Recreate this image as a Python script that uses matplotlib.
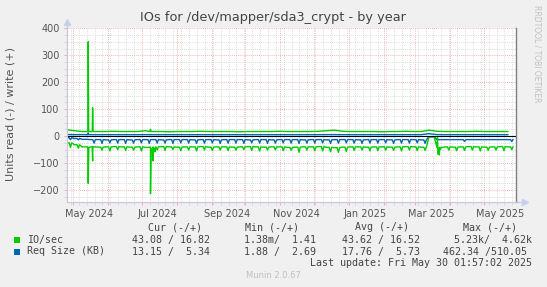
import matplotlib
matplotlib.use('Agg')
import matplotlib.pyplot as plt
import matplotlib.dates as mdates
from matplotlib.patches import Rectangle
import numpy as np
import pandas as pd

W, H = 547, 287

start = pd.Timestamp('2024-04-25 02:00')
end = pd.Timestamp('2025-05-28 21:00')

# weekly values (week i starts at start + 7*i days)
# read side is stored as magnitude and drawn negative (munin style)
green_read_base = [25, 32, 40, 40, 41, 40, 39, 40, 41, 40, 42, 40, 39, 40, 41, 40, 40, 39, 41, 40,
                   40, 41, 40, 39, 40, 41, 40, 40, 42, 41, 40, 40, 39, 42, 43, 41, 40, 40, 41, 40,
                   40, 41, 40, 39, 40, 41, 3, 42, 40, 41, 40, 39, 40, 41, 40, 39, 40]
green_read_dip = [42, 45, 40, 40, 52, 55, 50, 53, 52, 55, 42, 52, 53, 50, 54, 52, 55, 51, 53, 52,
                  54, 52, 50, 53, 55, 52, 51, 54, 53, 60, 52, 54, 55, 58, 60, 57, 53, 52, 55, 54,
                  52, 53, 55, 52, 54, 53, 3, 45, 52, 54, 53, 52, 55, 53, 52, 54, 50]
blue_read_base = [6, 9, 12, 13, 13, 14, 13, 13, 14, 13, 13, 13, 14, 13, 13, 13, 14, 13, 13, 14,
                  13, 13, 13, 14, 13, 13, 14, 13, 13, 13, 14, 13, 13, 14, 13, 13, 13, 14, 13, 13,
                  13, 14, 13, 13, 13, 14, 2, 13, 13, 13, 13, 13, 13, 13, 13, 13, 13]
blue_read_dip = [13, 14, 12, 26, 27, 25, 26, 27, 26, 25, 27, 26, 26, 27, 25, 26, 27, 26, 25, 27,
                 26, 26, 27, 25, 26, 27, 26, 25, 26, 27, 26, 26, 25, 27, 26, 25, 26, 27, 26, 26,
                 25, 27, 26, 26, 25, 27, 2, 13, 13, 13, 20, 13, 13, 13, 13, 13, 20]
green_write = [24, 20, 17, 17, 17, 17, 18, 17, 17, 17, 20, 17, 17, 16, 17, 17, 17, 18, 17, 17,
               17, 17, 16, 17, 17, 17, 17, 18, 17, 17, 17, 17, 18, 20, 22, 18, 17, 17, 17, 17,
               16, 17, 17, 18, 17, 17, 22, 18, 17, 17, 17, 17, 18, 17, 17, 17, 17]
blue_write = [6, 5.5, 5.5, 5.3, 5.3, 5.3, 5.3, 5.3, 5.3, 5.3, 5.5, 5.3, 5.3, 5.3, 5.3, 5.3, 5.3,
              5.3, 5.3, 5.3, 5.3, 5.3, 5.3, 5.3, 5.3, 5.3, 5.3, 5.3, 5.3, 5.3, 5.3, 5.3, 5.3,
              5.5, 5.5, 5.3, 5.3, 5.3, 5.3, 5.3, 5.3, 5.3, 5.3, 5.3, 5.3, 5.3, 9, 5.5, 5.3, 5.3,
              5.3, 5.3, 5.3, 5.3, 5.3, 5.3, 5.3]

# single-day events (days after start, value)
green_read_ev_days = [18.9, 19.3, 19.8, 22.8, 23.2, 23.7, 74.2, 74.6, 75.1, 76.4, 76.8, 77.3,
                      78.0, 78.5, 79.0, 329.5, 330.0, 330.6, 331.2, 331.8, 332.5]
green_read_ev_vals = [40, 175, 45, 40, 92, 40, 40, 213, 48, 45, 92, 50, 45, 58, 42, 5, 67, 45,
                      70, 50, 42]
green_write_ev_days = [19.0, 19.3, 19.7, 22.9, 23.2, 23.6, 74.2, 74.6, 75.0]
green_write_ev_vals = [17, 350, 17, 17, 105, 17, 17, 25, 17]
blue_write_ev_days = [19.0, 19.3, 19.7]
blue_write_ev_vals = [5.3, 12, 5.3]

tick_dates = ['2024-05-15', '2024-07-15', '2024-09-15', '2024-11-15', '2025-01-15',
              '2025-03-15', '2025-05-15']
tick_labels = ['May 2024', 'Jul 2024', 'Sep 2024', 'Nov 2024', 'Jan 2025', 'Mar 2025', 'May 2025']

legend_rows = [
    ('IO/sec', '#00CC00', '43.08 / 16.82', '1.38m/  1.41', '43.62 / 16.52', '5.23k/  4.62k'),
    ('Req Size (KB)', '#0066B3', '13.15 /  5.34', '1.88 /  2.69', '17.76 /  5.73', '462.34 /510.05'),
]


def weekly_line(base, dip, ev_days=(), ev_vals=()):
	t, v = [], []
	for i in range(len(base)):
		if dip is None:
			t += [7 * i]
			v += [base[i]]
		else:
			t += [7 * i, 7 * i + 2.4, 7 * i + 3.5, 7 * i + 4.6]
			v += [base[i], base[i], dip[i], base[i]]
	t = np.array(t + list(ev_days), dtype=float)
	v = np.array(v + list(ev_vals), dtype=float)
	o = np.argsort(t, kind='stable')
	dates = start + pd.to_timedelta(t[o], unit='D')
	return dates, v[o]


fig = plt.figure(figsize=(W / 100, H / 100), dpi=100, facecolor='#F0F0F0')
ax = fig.add_axes([66.5 / W, (H - 201.6) / H, 449 / W, (201.6 - 28.3) / H])
ax.set_facecolor('white')

ax.set_xlim(start, end)
ax.set_ylim(-243, 400)

# grid
ax.xaxis.set_major_locator(mdates.MonthLocator())
ax.xaxis.set_minor_locator(mdates.WeekdayLocator(byweekday=mdates.MO))
ax.xaxis.set_major_formatter(plt.NullFormatter())
ax.set_yticks([-200, -100, 0, 100, 200, 300, 400])
ax.set_yticks(np.arange(-225, 400, 25), minor=True)
ax.grid(True, which='minor', color='#d0d0d0', linestyle=(0, (1, 1.5)), linewidth=0.6)
ax.grid(True, which='major', color='#f0a0a0', linestyle=(0, (1, 1.5)), linewidth=0.6)
ax.set_axisbelow(True)
ax.tick_params(which='major', length=2, width=0.6, color='#f0a0a0', labelsize=7,
               labelcolor='#555555', pad=3)
ax.tick_params(which='minor', length=2, width=0.5, color='#d0d0d0')

ax.spines['top'].set_visible(False)
ax.spines['left'].set_color('#c8c8e0')
ax.spines['bottom'].set_color('#c8c8e0')
ax.spines['right'].set_color('#808080')
ax.spines['right'].set_linewidth(1.0)

# axis arrows
ax.plot([0, 1.02], [0, 0], transform=ax.transAxes, color='#c8c8e0', lw=0.8, clip_on=False)
ax.plot([1.022], [0], marker='>', ms=4, color='#c8d0f0', transform=ax.transAxes, clip_on=False)
ax.plot([0, 0], [0, 1.03], transform=ax.transAxes, color='#c8c8e0', lw=0.8, clip_on=False)
ax.plot([0], [1.035], marker='^', ms=4, color='#c8d0f0', transform=ax.transAxes, clip_on=False)

# data
d, v = weekly_line(blue_read_base, blue_read_dip)
ax.plot(d, -v, color='#0066B3', lw=1.0)
d, v = weekly_line(blue_write, None, blue_write_ev_days, blue_write_ev_vals)
ax.plot(d, v, color='#0066B3', lw=1.0)
d, v = weekly_line(green_read_base, green_read_dip, green_read_ev_days, green_read_ev_vals)
ax.plot(d, -v, color='#00CC00', lw=1.0)
d, v = weekly_line(green_write, None, green_write_ev_days, green_write_ev_vals)
ax.plot(d, v, color='#00CC00', lw=1.0)
ax.axhline(0, color='black', lw=0.8)

# month labels (centred mid-month like rrdtool)
for td, tl in zip(tick_dates, tick_labels):
	ax.text(mdates.date2num(pd.Timestamp(td)), -0.07, tl, transform=ax.get_xaxis_transform(),
	        ha='center', va='center', fontsize=7, color='#555555')

fig.text(11 / W, 1 - 114 / H, 'Units read (-) / write (+)', rotation=90, ha='center',
         va='center', fontsize=8, color='#555555')

fig.text(273 / W, 1 - 17 / H, 'IOs for /dev/mapper/sda3_crypt - by year', ha='center',
         va='center', fontsize=9.3, color='#444444')
fig.text(537 / W, 1 - 5 / H, 'RRDTOOL / TOBI OETIKER', rotation=270, ha='center', va='top',
         fontsize=5.5, color='#c0c0c0')

mono = 'DejaVu Sans Mono'
fs = 7.2
tc = '#444444'
y_head = 227.3
fig.text(147.7 / W, 1 - y_head / H, 'Cur (-/+)', family=mono, fontsize=fs, color=tc, va='center')
fig.text(245 / W, 1 - y_head / H, 'Min (-/+)', family=mono, fontsize=fs, color=tc, va='center')
fig.text(355 / W, 1 - y_head / H, 'Avg (-/+)', family=mono, fontsize=fs, color=tc, va='center')
fig.text(463.3 / W, 1 - y_head / H, 'Max (-/+)', family=mono, fontsize=fs, color=tc, va='center')

row_y = [240, 251.5]
for (name, col, cur, mn, avg, mx), y in zip(legend_rows, row_y):
	fig.add_artist(Rectangle((14 / W, 1 - (y + 3) / H), 6 / W, 6 / H, transform=fig.transFigure,
	                         facecolor=col, edgecolor='none'))
	fig.text(26.7 / W, 1 - y / H, name, family=mono, fontsize=fs, color=tc, va='center')
	fig.text(209.5 / W, 1 - y / H, cur, family=mono, fontsize=fs, color=tc, va='center', ha='right')
	fig.text(316 / W, 1 - y / H, mn, family=mono, fontsize=fs, color=tc, va='center', ha='right')
	fig.text(420.5 / W, 1 - y / H, avg, family=mono, fontsize=fs, color=tc, va='center', ha='right')
	mx_end = 531.7 if mx.endswith('k') else 526.7
	fig.text(mx_end / W, 1 - y / H, mx, family=mono, fontsize=fs, color=tc, va='center', ha='right')

fig.text(531.7 / W, 1 - 263 / H, 'Last update: Fri May 30 01:57:02 2025', family=mono,
         fontsize=fs, color=tc, va='center', ha='right')
fig.text(273 / W, 1 - 276 / H, 'Munin 2.0.67', fontsize=6, color='#c0c0c0', ha='center',
         va='center')

fig.savefig('out.png', dpi=100, facecolor=fig.get_facecolor())
